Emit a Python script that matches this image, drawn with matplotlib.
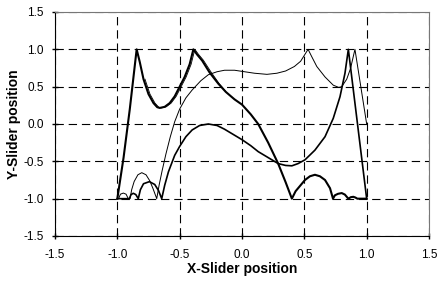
import numpy as np
import matplotlib.pyplot as plt

plt.rcParams['font.family'] = ['Liberation Sans', 'DejaVu Sans']
plt.rcParams['lines.scale_dashes'] = False

# thick trace
x1 = [-1.0, -0.95, -0.90, -0.845, -0.82, -0.79, -0.75, -0.71, -0.68, -0.66,
      -0.62, -0.58, -0.54, -0.50, -0.46, -0.42, -0.39, -0.36, -0.32, -0.26,
      -0.19, -0.13, -0.06, 0.0, 0.07, 0.13, 0.21, 0.29, 0.35, 0.40,
      0.43, 0.465, 0.505, 0.545, 0.585, 0.625, 0.666, 0.706, 0.73,
      0.745, 0.77, 0.80, 0.825, 0.853, 0.873, 0.893, 0.91, 0.925, 1.0]
y1 = [-1.0, -0.45, 0.2, 1.0, 0.83, 0.60, 0.40, 0.28, 0.225, 0.215,
      0.23, 0.28, 0.37, 0.50, 0.63, 0.80, 1.0, 0.93, 0.85, 0.69,
      0.54, 0.43, 0.33, 0.26, 0.13, 0.0, -0.25, -0.53, -0.78, -1.0,
      -0.90, -0.83, -0.75, -0.70, -0.68, -0.70, -0.75, -0.86, -1.0,
      -0.955, -0.935, -0.925, -0.945, -1.0, -0.98, -0.975, -0.985, -1.0, -1.0]

# second thin trace close to the thick one
x2 = [-0.778, -0.738, -0.698, -0.668, -0.648, -0.608, -0.568, -0.528, -0.488,
      -0.448, -0.408, -0.378, -0.35, -0.31, -0.25, -0.185, -0.13]
y2 = [0.60, 0.40, 0.28, 0.225, 0.215, 0.23, 0.28, 0.37, 0.50,
      0.63, 0.80, 1.0, 0.935, 0.855, 0.70, 0.545, 0.435]

# medium trace
x3 = [-1.0, -0.904, -0.89, -0.872, -0.852, -0.832, -0.815, -0.79, -0.743,
      -0.70, -0.67, -0.644, -0.62, -0.59, -0.54, -0.50, -0.45, -0.40, -0.34,
      -0.27, -0.20, -0.14, -0.07, 0.0, 0.07, 0.13, 0.21, 0.29, 0.35, 0.40,
      0.45, 0.505, 0.585, 0.666, 0.732, 0.786, 0.826, 0.853, 1.0]
y3 = [-1.0, -1.0, -0.945, -0.928, -0.945, -1.0, -0.88, -0.80, -0.772,
      -0.81, -0.89, -1.0, -0.82, -0.64, -0.42, -0.30, -0.17, -0.08, -0.02,
      0.0, -0.02, -0.07, -0.14, -0.21, -0.29, -0.37, -0.45, -0.53, -0.555, -0.56,
      -0.53, -0.48, -0.35, -0.17, 0.076, 0.365, 0.68, 1.0, -1.0]

# thin trace
x4 = [-1.0, -0.99, -0.975, -0.952, -0.93, -0.912, -0.898, -0.885, -0.865,
      -0.835, -0.804, -0.77, -0.74, -0.715, -0.684, -0.665, -0.64, -0.61,
      -0.575, -0.54, -0.50, -0.45, -0.40, -0.33, -0.27, -0.20, -0.14, -0.06,
      0.02, 0.10, 0.20, 0.28, 0.35, 0.42, 0.47, 0.50, 0.53,
      0.56, 0.60, 0.666, 0.732, 0.776, 0.80, 0.84, 0.87, 0.906, 1.0]
y4 = [-1.0, -1.0, -0.94, -0.925, -0.94, -1.0, -1.0, -0.88, -0.77,
      -0.68, -0.652, -0.68, -0.76, -0.86, -1.0, -0.82, -0.62, -0.40,
      -0.17, 0.03, 0.20, 0.35, 0.455, 0.58, 0.66, 0.70, 0.72, 0.72,
      0.70, 0.68, 0.665, 0.68, 0.71, 0.77, 0.84, 0.92, 1.0,
      0.90, 0.77, 0.63, 0.52, 0.49, 0.50, 0.60, 0.74, 1.0, 0.0]

ticks = [-1.5, -1.0, -0.5, 0.0, 0.5, 1.0, 1.5]
tick_labels = ['-1.5', '-1.0', '-0.5', '0.0', '0.5', '1.0', '1.5']

fig = plt.figure(figsize=(4.41, 2.85), dpi=100)
ax = fig.add_axes([55/441, 49/285, 374/441, 224/285])

ax.plot(x4, y4, color='black', lw=0.7)
ax.plot(x3, y3, color='black', lw=1.2)
ax.plot(x2, y2, color='black', lw=0.6)
ax.plot(x1, y1, color='black', lw=1.5)

ax.set_xlim(-1.5, 1.5)
ax.set_ylim(-1.5, 1.5)
ax.set_xticks(ticks, tick_labels, fontsize=8.5)
ax.set_yticks(ticks, tick_labels, fontsize=8.5)
ax.tick_params(direction='inout', length=5, width=1)
ax.tick_params(axis='x', pad=6.5)
ax.tick_params(axis='y', pad=5.5)
ax.grid(True, color='black', lw=0.8, linestyle=(0, (6, 3.5)))

for s in ['top', 'right']:
    ax.spines[s].set_color('#777777')
ax.spines['left'].set_color('black')
ax.spines['bottom'].set_color('black')

ax.set_xlabel('X-Slider position', fontsize=10, fontweight='bold')
ax.set_ylabel('Y-Slider position', fontsize=10, fontweight='bold')
ax.xaxis.set_label_coords(0.5, -0.115)
ax.yaxis.set_label_coords(-0.09, 0.5)

plt.savefig('out.png', dpi=100)
